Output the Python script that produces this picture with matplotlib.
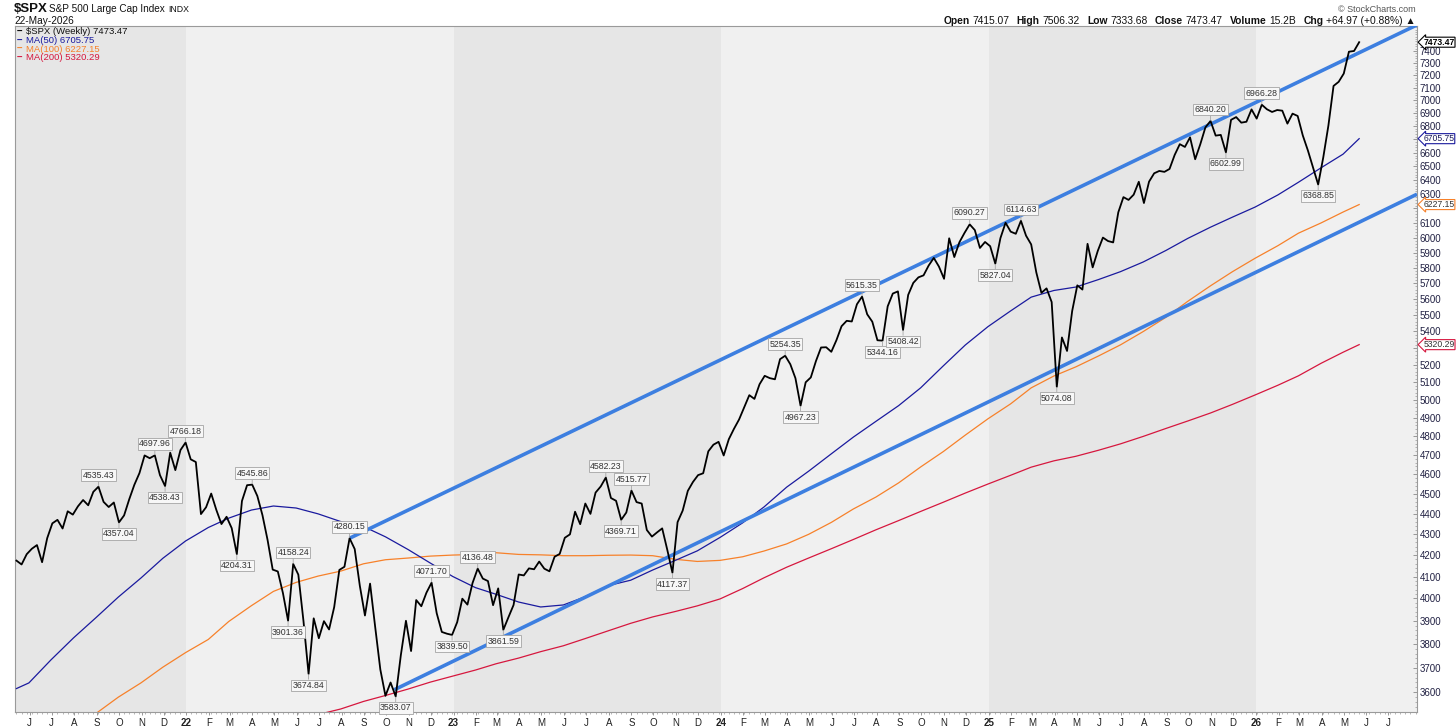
import pandas as pd
import matplotlib
matplotlib.use("Agg")
import matplotlib.pyplot as plt
import matplotlib.ticker as mticker

plt.rcParams['font.family'] = ['Liberation Sans', 'DejaVu Sans']

# $SPX weekly closes (week ending Friday)
spx_2021 = [4173.85, 4155.86, 4204.11, 4229.89, 4247.44, 4166.45, 4280.70, 4352.34, 4369.55, 4327.16,
            4411.79, 4395.26, 4436.52, 4468.00, 4441.67, 4509.37, 4535.43, 4458.58, 4432.99, 4455.48,
            4357.04, 4391.34, 4471.37, 4544.90, 4605.38, 4697.53, 4682.85, 4697.96, 4594.62, 4538.43,
            4712.02, 4620.64, 4725.79, 4766.18]
spx_2022 = [4677.03, 4662.85, 4397.94, 4431.85, 4500.53, 4418.64, 4348.87, 4384.65, 4328.87, 4204.31,
            4463.12, 4543.06, 4545.86, 4488.28, 4392.59, 4271.78, 4131.93, 4123.34, 4023.89, 3901.36,
            4158.24, 4108.54, 3900.86, 3674.84, 3911.74, 3825.33, 3899.38, 3863.16, 3961.63, 4130.29,
            4145.19, 4280.15, 4228.48, 4057.66, 3924.26, 4067.36, 3873.33, 3693.23, 3585.62, 3639.66,
            3583.07, 3752.75, 3901.06, 3770.55, 3992.93, 3965.34, 4026.12, 4071.70, 3934.38, 3852.36,
            3844.82, 3839.50]
spx_2023 = [3895.08, 3999.09, 3972.61, 4070.56, 4136.48, 4090.46, 4079.09, 3970.04, 4045.64, 3861.59,
            3916.64, 3970.99, 4109.31, 4105.02, 4137.64, 4133.52, 4169.48, 4136.25, 4124.08, 4191.98,
            4205.45, 4282.37, 4298.86, 4409.59, 4348.33, 4450.38, 4398.95, 4505.42, 4536.34, 4582.23,
            4478.03, 4464.05, 4369.71, 4405.71, 4515.77, 4457.49, 4450.32, 4320.06, 4288.05, 4308.50,
            4327.78, 4224.16, 4117.37, 4358.34, 4415.24, 4514.02, 4559.34, 4594.63, 4604.37, 4719.19,
            4754.63, 4769.83]
spx_2024 = [4697.24, 4783.83, 4839.81, 4890.97, 4958.61, 5026.61, 5005.57, 5088.80, 5137.08, 5123.69,
            5117.09, 5234.18, 5254.35, 5204.34, 5123.41, 4967.23, 5099.96, 5127.79, 5222.68, 5303.27,
            5304.72, 5277.51, 5346.99, 5431.60, 5464.62, 5460.48, 5567.19, 5615.35, 5505.00, 5459.10,
            5346.56, 5344.16, 5554.25, 5634.61, 5648.40, 5408.42, 5626.02, 5702.55, 5738.17, 5751.07,
            5815.03, 5864.67, 5808.12, 5728.80, 5995.54, 5870.62, 5969.34, 6032.38, 6090.27, 6051.09,
            5930.85, 5970.84]
spx_2025 = [5942.47, 5827.04, 5996.66, 6101.24, 6040.53, 6025.99, 6114.63, 6013.13, 5954.50, 5770.20,
            5638.94, 5667.56, 5580.94, 5074.08, 5363.36, 5282.70, 5525.21, 5686.67, 5659.91, 5958.38,
            5802.82, 5911.69, 6000.36, 5976.97, 5967.84, 6173.07, 6279.35, 6259.75, 6296.79, 6388.64,
            6238.01, 6389.45, 6449.80, 6466.91, 6460.26, 6481.50, 6584.29, 6664.36, 6643.70, 6715.79,
            6552.51, 6664.01, 6791.69, 6840.20, 6728.80, 6734.11, 6602.99, 6849.09, 6870.40, 6827.41,
            6834.50, 6929.94]
spx_2026 = [6858.47, 6966.28, 6931, 6910, 6925, 6920, 6820, 6897, 6879, 6730, 6617, 6493, 6368.85,
            6567, 6806, 7115, 7148, 7215, 7394, 7400, 7473.47]

closes = spx_2021 + spx_2022 + spx_2023 + spx_2024 + spx_2025 + spx_2026
weeks = pd.date_range("2021-05-14", periods=len(closes), freq="W-FRI")

# moving averages, sampled at month ends
month_ends = pd.date_range("2021-05-31", "2026-04-30", freq="ME")
last_day = pd.DatetimeIndex(["2026-05-22"])
ma50_dates = pd.DatetimeIndex(["2021-05-14"]).append(month_ends).append(last_day)
ma50 = [3615, 3638, 3733, 3827, 3916, 4006, 4093, 4185, 4267, 4332, 4378, 4418, 4438, 4428, 4399,
        4361, 4337, 4287, 4226, 4163, 4100, 4049, 4019, 3984, 3962, 3971, 4008, 4058, 4083, 4130,
        4175, 4220, 4284, 4355, 4433, 4533, 4615, 4706, 4795, 4881, 4968, 5068, 5195, 5318, 5429,
        5526, 5612, 5654, 5676, 5724, 5775, 5838, 5914, 5995, 6071, 6140, 6210, 6295, 6385, 6490,
        6590, 6705.75]
ma100_dates = month_ends[2:].append(last_day)
ma100 = [3452, 3516, 3580, 3638, 3703, 3764, 3820, 3898, 3968, 4032, 4073, 4102, 4125, 4159, 4178,
         4186, 4195, 4200, 4203, 4211, 4203, 4201, 4197, 4197, 4199, 4200, 4197, 4180, 4170, 4175,
         4192, 4219, 4253, 4299, 4357, 4423, 4483, 4555, 4637, 4718, 4806, 4895, 4978, 5068, 5136,
         5189, 5253, 5319, 5399, 5486, 5586, 5684, 5775, 5863, 5946, 6030, 6100, 6175, 6227.15]
ma200_dates = month_ends[10:].append(last_day)
ma200 = [3426, 3461, 3488, 3511, 3533, 3563, 3587, 3613, 3641, 3666, 3691, 3717, 3741, 3768, 3793,
         3824, 3857, 3890, 3918, 3942, 3967, 3998, 4045, 4094, 4143, 4186, 4230, 4274, 4321, 4366,
         4411, 4457, 4503, 4549, 4594, 4636, 4669, 4693, 4725, 4759, 4799, 4842, 4883, 4927, 4975,
         5028, 5083, 5137, 5210, 5275, 5320.29]

# trend channel drawn on the chart
upper_dates = pd.to_datetime(["2022-08-12", "2026-08-09"])
upper_vals = [4280.15, 7620]
lower_dates = pd.to_datetime(["2022-10-12", "2026-08-09"])
lower_vals = [3610, 6300]

peak_labels = [4535.43, 4697.96, 4766.18, 4545.86, 4158.24, 4280.15, 4071.70, 4136.48, 4582.23,
               4515.77, 5254.35, 5615.35, 6090.27, 6114.63, 6840.20, 6966.28]
trough_labels = [4357.04, 4538.43, 4204.31, 3901.36, 3674.84, 3583.07, 3839.50, 3861.59, 4369.71,
                 4117.37, 4967.23, 5344.16, 5408.42, 5827.04, 5074.08, 6602.99, 6368.85]

# price levels whose axis label sits under a value tag
hidden_ticks = [6700, 6200, 5300]

c_ma50 = '#1a1a9e'
c_ma100 = '#f7812a'
c_ma200 = '#d6173e'
c_chan = '#3d7fe0'

W, H = 1456, 728
def fx(p):
    return p / W
def fy(p):
    return 1 - p / H

fig = plt.figure(figsize=(W / 100, H / 100), dpi=100)
ax = fig.add_axes([fx(15), fy(712), fx(1417) - fx(15), fy(25.5) - fy(712)])

x0 = pd.Timestamp("2021-05-12")
x1 = pd.Timestamp("2026-08-09")
ax.set_facecolor('#f0f0f0')
for yr in range(2021, 2027):
    a = max(pd.Timestamp(f"{yr}-01-01"), x0)
    b = min(pd.Timestamp(f"{yr + 1}-01-01"), x1)
    ax.axvspan(a, b, color='#e6e6e6' if yr % 2 == 1 else '#f0f0f0', lw=0, zorder=0)

ax.plot(ma200_dates, ma200, color=c_ma200, lw=0.9, zorder=3)
ax.plot(ma100_dates, ma100, color=c_ma100, lw=0.9, zorder=3)
ax.plot(ma50_dates, ma50, color=c_ma50, lw=0.9, zorder=3)
ax.plot(upper_dates, upper_vals, color=c_chan, lw=2.6, zorder=4, solid_capstyle='butt')
ax.plot(lower_dates, lower_vals, color=c_chan, lw=2.6, zorder=4, solid_capstyle='butt')
ax.plot(weeks, closes, color='black', lw=1.3, zorder=5)

lab_box = dict(boxstyle='square,pad=0.15', fc='#f7f7f7', ec='#a5a5a5', lw=0.6)
for v in peak_labels:
    d = weeks[closes.index(v)]
    ax.annotate(f"{v:.2f}", xy=(d, v), xytext=(0, 5), textcoords='offset points',
                ha='center', va='bottom', fontsize=6.3, color='#333333', bbox=lab_box, zorder=7,
                arrowprops=dict(arrowstyle='-', color='#a5a5a5', lw=0.6, shrinkA=0, shrinkB=0.5))
for v in trough_labels:
    d = weeks[closes.index(v)]
    ax.annotate(f"{v:.2f}", xy=(d, v), xytext=(0, -5), textcoords='offset points',
                ha='center', va='top', fontsize=6.3, color='#333333', bbox=lab_box, zorder=7,
                arrowprops=dict(arrowstyle='-', color='#a5a5a5', lw=0.6, shrinkA=0, shrinkB=0.5))

# axes and ticks
ax.set_yscale('log')
ax.set_ylim(3521, 7615)
ax.set_xlim(x0, x1)
ax.yaxis.tick_right()
ax.yaxis.set_major_locator(mticker.FixedLocator(range(3600, 7500, 100)))
ax.yaxis.set_major_formatter(mticker.FuncFormatter(
    lambda v, p: "" if round(v) in hidden_ticks else f"{v:.0f}"))
ax.yaxis.set_minor_locator(mticker.FixedLocator(range(3540, 7620, 20)))
ax.yaxis.set_minor_formatter(mticker.NullFormatter())
ax.tick_params(axis='y', which='major', direction='in', length=3, width=0.6, pad=2,
               labelsize=7, labelcolor='#222244', color='#888888')
ax.tick_params(axis='y', which='minor', direction='in', length=1.5, width=0.5, color='#999999')

mstarts = pd.date_range("2021-06-01", "2026-07-01", freq="MS")
mlabels = [str(d.year)[2:] if d.month == 1 else d.strftime('%b')[0] for d in mstarts]
ax.set_xticks(mstarts)
ax.set_xticklabels(mlabels)
for d, t in zip(mstarts, ax.get_xticklabels()):
    if d.month == 1:
        t.set_fontweight('bold')
        t.set_fontsize(7.5)
ax.set_xticks(pd.date_range("2021-05-14", "2026-08-07", freq="W-FRI"), minor=True)
ax.tick_params(axis='x', which='major', direction='out', length=2.5, width=0.6, pad=2,
               labelsize=7, labelcolor='#222222', color='#888888')
ax.tick_params(axis='x', which='minor', direction='out', length=1.5, width=0.5, color='#999999')
for s in ax.spines.values():
    s.set_color('#9a9a9a')
    s.set_linewidth(0.8)

# value tags on the right edge
tags = [(7473.47, 'black', 'black', 'bold'), (6705.75, c_ma50, '#1a1a5a', 'normal'),
        (6227.15, c_ma100, '#333333', 'normal'), (5320.29, c_ma200, '#333333', 'normal')]
for v, ec, tc, w in tags:
    ax.annotate(f"{v:.2f}", xy=(1, v), xycoords=('axes fraction', 'data'), xytext=(4.5, 0),
                textcoords='offset points', ha='left', va='center', fontsize=6.2, color=tc,
                fontweight=w, annotation_clip=False, zorder=10,
                bbox=dict(boxstyle='larrow,pad=0.06', fc='white', ec=ec, lw=0.8))

# header
fig.text(fx(14), fy(9), "\\$SPX", fontsize=9.5, fontweight='bold', va='center', color='#111111')
fig.text(fx(49), fy(9.5), "S&P 500 Large Cap Index", fontsize=7.2, va='center', color='#111111')
fig.text(fx(168), fy(10), "INDX", fontsize=6.3, va='center', color='#111111')
fig.text(fx(14), fy(20.5), "22-May-2026", fontsize=7.3, va='center', color='#111111')
fig.text(fx(1416), fy(9), "© StockCharts.com", fontsize=6.5, ha='right', va='center', color='#555555')

legend_rows = [("\\$SPX (Weekly) 7473.47", 'black'), ("MA(50) 6705.75", c_ma50),
               ("MA(100) 6227.15", c_ma100), ("MA(200) 5320.29", c_ma200)]
for k, (txt, c) in enumerate(legend_rows):
    y = 32 + 8.6 * k
    fig.text(fx(17), fy(y), "\u2013", fontsize=7, fontweight='bold', va='center', color=c)
    fig.text(fx(26), fy(y), txt, fontsize=6.8, va='center', color=c if k else '#111111')

hdr = [("Open", True), ("7415.07", False), ("High", True), ("7506.32", False), ("Low", True),
       ("7333.68", False), ("Close", True), ("7473.47", False), ("Volume", True), ("15.2B", False),
       ("Chg", True), ("+64.97 (+0.88%) \u25b2", False)]
renderer = fig.canvas.get_renderer()
pieces = []
for txt, bold in hdr:
    t = fig.text(0, fy(23.5), txt, fontsize=7.4, fontweight='bold' if bold else 'normal',
                 va='baseline', ha='left', color='#111111')
    pieces.append((t, t.get_window_extent(renderer).width, 3 if bold else 7))
total = sum(w for _, w, _ in pieces) + sum(g for _, _, g in pieces[:-1])
xpos = 1416 - total
for t, w, g in pieces:
    t.set_x(fx(xpos))
    xpos += w + g

fig.savefig("out.png", dpi=100)
